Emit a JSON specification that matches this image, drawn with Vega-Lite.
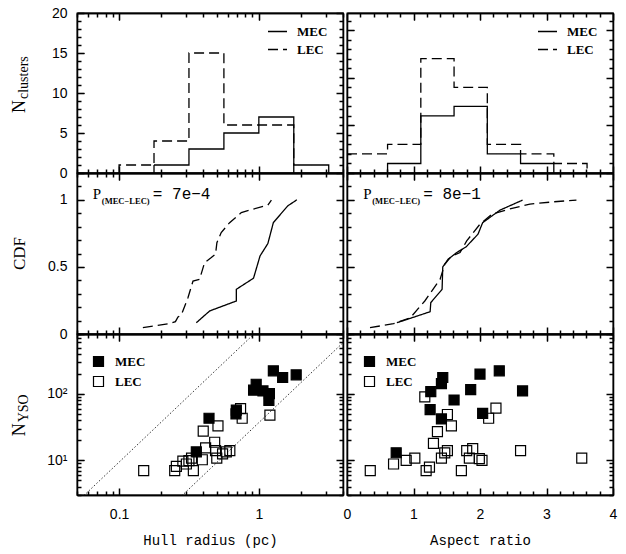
{
"$schema": "https://vega.github.io/schema/vega-lite/v6.json",
"padding": {"left": 10, "top": 5, "right": 5, "bottom": 5},
"background": "white",
"bounds": "flush",
"columns": 2,
"spacing": {"row": 0, "column": 4},
"resolve": {"scale": {"strokeDash": "independent", "fill": "independent"}, "legend": {"strokeDash": "independent", "fill": "independent"}},
"config": {
 "view": {"stroke": "black", "strokeWidth": 1.3},
 "axis": {"grid": true, "gridColor": "black", "gridWidth": 1.1, "gridOpacity": 1, "gridDash": [4, 3000], "domain": true, "domainColor": "black", "domainWidth": 1.3, "ticks": true, "tickColor": "#000000", "tickWidth": 1.5, "tickOpacity": 1, "labelFont": "Liberation Sans", "labelFontSize": 14, "labelColor": "black", "titleFont": "Liberation Mono", "titleFontSize": 14, "titleFontWeight": "normal", "titleColor": "black", "labelOverlap": false, "labelFlush": false, "labelBound": false},
 "text": {"font": "Liberation Serif", "color": "black"}
},
"datasets": {
 "hist_r": [
  {"s":"MEC","i":0,"x":0.1778,"n":0},{"s":"MEC","i":1,"x":0.1778,"n":1},{"s":"MEC","i":2,"x":0.3162,"n":3},{"s":"MEC","i":3,"x":0.5623,"n":5},{"s":"MEC","i":4,"x":1.0,"n":7},{"s":"MEC","i":5,"x":1.778,"n":1},{"s":"MEC","i":6,"x":3.162,"n":0},
  {"s":"LEC","i":0,"x":0.1,"n":0},{"s":"LEC","i":1,"x":0.1,"n":1},{"s":"LEC","i":2,"x":0.1778,"n":4},{"s":"LEC","i":3,"x":0.3162,"n":15},{"s":"LEC","i":4,"x":0.5623,"n":6},{"s":"LEC","i":5,"x":1.0,"n":6},{"s":"LEC","i":6,"x":1.778,"n":0}
 ],
 "hist_ar": [
  {"s":"MEC","i":0,"x":0.61,"n":0},{"s":"MEC","i":1,"x":0.61,"n":1},{"s":"MEC","i":2,"x":1.11,"n":6},{"s":"MEC","i":3,"x":1.61,"n":7},{"s":"MEC","i":4,"x":2.11,"n":2},{"s":"MEC","i":5,"x":2.61,"n":1},{"s":"MEC","i":6,"x":3.11,"n":0},
  {"s":"LEC","i":0,"x":0,"n":2},{"s":"LEC","i":1,"x":0.61,"n":3},{"s":"LEC","i":2,"x":1.11,"n":12},{"s":"LEC","i":3,"x":1.61,"n":9},{"s":"LEC","i":4,"x":2.11,"n":3},{"s":"LEC","i":5,"x":2.61,"n":2},{"s":"LEC","i":6,"x":3.11,"n":1},{"s":"LEC","i":7,"x":3.61,"n":0}
 ],
 "cdf_r": [
  {"s":"LEC","i":0,"x":0.148,"c":0.047},{"s":"LEC","i":1,"x":0.23,"c":0.077},{"s":"LEC","i":2,"x":0.253,"c":0.092},{"s":"LEC","i":3,"x":0.264,"c":0.127},{"s":"LEC","i":4,"x":0.279,"c":0.142},{"s":"LEC","i":5,"x":0.311,"c":0.27},{"s":"LEC","i":6,"x":0.338,"c":0.395},{"s":"LEC","i":7,"x":0.377,"c":0.408},{"s":"LEC","i":8,"x":0.409,"c":0.532},{"s":"LEC","i":9,"x":0.457,"c":0.57},{"s":"LEC","i":10,"x":0.49,"c":0.595},{"s":"LEC","i":11,"x":0.501,"c":0.68},{"s":"LEC","i":12,"x":0.538,"c":0.756},{"s":"LEC","i":13,"x":0.618,"c":0.83},{"s":"LEC","i":14,"x":0.749,"c":0.905},{"s":"LEC","i":15,"x":0.906,"c":0.93},{"s":"LEC","i":16,"x":1.16,"c":0.96},{"s":"LEC","i":17,"x":1.23,"c":0.998},
  {"s":"MEC","i":0,"x":0.357,"c":0.084},{"s":"MEC","i":1,"x":0.445,"c":0.172},{"s":"MEC","i":2,"x":0.69,"c":0.246},{"s":"MEC","i":3,"x":0.69,"c":0.333},{"s":"MEC","i":4,"x":0.916,"c":0.416},{"s":"MEC","i":5,"x":1.02,"c":0.582},{"s":"MEC","i":6,"x":1.16,"c":0.674},{"s":"MEC","i":7,"x":1.27,"c":0.83},{"s":"MEC","i":8,"x":1.61,"c":0.955},{"s":"MEC","i":9,"x":1.87,"c":1.0}
 ],
 "cdf_ar": [
  {"s":"LEC","i":0,"x":0.346,"c":0.047},{"s":"LEC","i":1,"x":0.70,"c":0.077},{"s":"LEC","i":2,"x":0.95,"c":0.12},{"s":"LEC","i":3,"x":1.17,"c":0.246},{"s":"LEC","i":4,"x":1.40,"c":0.408},{"s":"LEC","i":5,"x":1.47,"c":0.52},{"s":"LEC","i":6,"x":1.57,"c":0.58},{"s":"LEC","i":7,"x":1.70,"c":0.607},{"s":"LEC","i":8,"x":1.80,"c":0.694},{"s":"LEC","i":9,"x":2.0,"c":0.819},{"s":"LEC","i":10,"x":2.18,"c":0.893},{"s":"LEC","i":11,"x":2.43,"c":0.93},{"s":"LEC","i":12,"x":2.75,"c":0.968},{"s":"LEC","i":13,"x":3.10,"c":0.985},{"s":"LEC","i":14,"x":3.45,"c":0.998},
  {"s":"MEC","i":0,"x":0.75,"c":0.084},{"s":"MEC","i":1,"x":1.25,"c":0.166},{"s":"MEC","i":2,"x":1.26,"c":0.234},{"s":"MEC","i":3,"x":1.43,"c":0.333},{"s":"MEC","i":4,"x":1.44,"c":0.5},{"s":"MEC","i":5,"x":1.52,"c":0.557},{"s":"MEC","i":6,"x":1.65,"c":0.607},{"s":"MEC","i":7,"x":1.79,"c":0.649},{"s":"MEC","i":8,"x":1.97,"c":0.744},{"s":"MEC","i":9,"x":2.04,"c":0.83},{"s":"MEC","i":10,"x":2.30,"c":0.923},{"s":"MEC","i":11,"x":2.64,"c":0.998}
 ],
 "sc_r": [
  {"s":"LEC","x":0.74,"n":60},{"s":"LEC","x":0.76,"n":43},{"s":"LEC","x":1.2,"n":48},{"s":"LEC","x":0.51,"n":33},{"s":"LEC","x":0.40,"n":27.5},{"s":"LEC","x":0.483,"n":18.7},{"s":"LEC","x":0.416,"n":15.4},{"s":"LEC","x":0.49,"n":14},{"s":"LEC","x":0.62,"n":14},{"s":"LEC","x":0.585,"n":13.4},{"s":"LEC","x":0.55,"n":12.5},{"s":"LEC","x":0.5,"n":10.8},{"s":"LEC","x":0.394,"n":10.2},{"s":"LEC","x":0.33,"n":10.8},{"s":"LEC","x":0.316,"n":9.9},{"s":"LEC","x":0.303,"n":8.8},{"s":"LEC","x":0.286,"n":9.7},{"s":"LEC","x":0.257,"n":8.1},{"s":"LEC","x":0.25,"n":7},{"s":"LEC","x":0.34,"n":7},{"s":"LEC","x":0.15,"n":7},
  {"s":"MEC","x":1.27,"n":223},{"s":"MEC","x":1.48,"n":177},{"s":"MEC","x":1.85,"n":194},{"s":"MEC","x":0.957,"n":140},{"s":"MEC","x":0.917,"n":114},{"s":"MEC","x":1.07,"n":111},{"s":"MEC","x":1.19,"n":101},{"s":"MEC","x":1.18,"n":80},{"s":"MEC","x":0.69,"n":57},{"s":"MEC","x":0.686,"n":50},{"s":"MEC","x":0.44,"n":43},{"s":"MEC","x":0.357,"n":13.4}
 ],
 "sc_ar": [
  {"s":"LEC","x":1.17,"n":90},{"s":"LEC","x":2.24,"n":61},{"s":"LEC","x":2.13,"n":43},{"s":"LEC","x":1.51,"n":49},{"s":"LEC","x":1.57,"n":33},{"s":"LEC","x":1.36,"n":27},{"s":"LEC","x":1.30,"n":18},{"s":"LEC","x":1.51,"n":14},{"s":"LEC","x":1.47,"n":12.9},{"s":"LEC","x":1.42,"n":10.8},{"s":"LEC","x":1.80,"n":14},{"s":"LEC","x":1.89,"n":15},{"s":"LEC","x":1.84,"n":10.8},{"s":"LEC","x":1.99,"n":10.6},{"s":"LEC","x":2.03,"n":10},{"s":"LEC","x":2.61,"n":14},{"s":"LEC","x":3.53,"n":10.8},{"s":"LEC","x":1.02,"n":10.8},{"s":"LEC","x":0.89,"n":10},{"s":"LEC","x":0.70,"n":8.8},{"s":"LEC","x":0.35,"n":7},{"s":"LEC","x":1.19,"n":7},{"s":"LEC","x":1.24,"n":7.9},{"s":"LEC","x":1.72,"n":7},
  {"s":"MEC","x":1.44,"n":177},{"s":"MEC","x":2.0,"n":199},{"s":"MEC","x":2.29,"n":223},{"s":"MEC","x":1.42,"n":143},{"s":"MEC","x":1.26,"n":108},{"s":"MEC","x":1.86,"n":116},{"s":"MEC","x":2.64,"n":111},{"s":"MEC","x":1.61,"n":81},{"s":"MEC","x":1.25,"n":58},{"s":"MEC","x":2.04,"n":51},{"s":"MEC","x":1.42,"n":42},{"s":"MEC","x":0.74,"n":13}
 ],
 "diag": [
  {"g":"A","x":0.04,"n":1.5},{"g":"A","x":1.2,"n":1354},{"g":"B","x":0.2,"n":1.48},{"g":"B","x":6,"n":1332}
 ]
},
"concat": [
 {
  "width": 266, "height": 160,
  "resolve": {"axis": {"x": "independent", "y": "independent"}},
  "layer": [
   {"data": {"name": "hist_r"}, "transform": [{"filter": "datum.s=='MEC'"}],
    "mark": {"type": "line", "interpolate": "step-after", "clip": true, "strokeWidth": 1.3, "color": "black"},
    "encoding": {
     "x": {"field": "x", "type": "quantitative", "scale": {"type": "log", "domain": [0.05, 4]}, "axis": {"orient": "bottom", "values": [0.1, 1], "labels": false, "title": null, "tickSize": -7, "gridDash": [7, 3000]}},
     "y": {"field": "n", "type": "quantitative", "scale": {"domain": [0, 20]}, "axis": {"orient": "left", "values": [0, 5, 10, 15, 20], "labelPadding": 17, "title": null, "tickSize": -7, "gridDash": [7, 3000]}},
     "order": {"field": "i"},
     "strokeDash": {"field": "s", "type": "nominal", "scale": {"domain": ["MEC", "LEC"], "range": [[1, 0], [10, 5]]}, "legend": {"orient": "none", "legendX": 190, "legendY": 8, "title": null, "labelFont": "Liberation Serif", "labelFontSize": 13, "labelFontWeight": "bold", "symbolType": "stroke", "symbolSize": 361, "symbolStrokeWidth": 1.3, "symbolStrokeColor": "black", "labelOffset": 9, "rowPadding": 0, "padding": 0}}
    }},
   {"data": {"name": "hist_r"}, "transform": [{"filter": "datum.s=='LEC'"}],
    "mark": {"type": "line", "interpolate": "step-after", "clip": true, "strokeWidth": 1.3, "color": "black"},
    "encoding": {
     "x": {"field": "x", "type": "quantitative", "scale": {"type": "log", "domain": [0.05, 4]}, "axis": {"orient": "top", "values": [0.1, 1], "labels": false, "title": null, "tickSize": -7, "gridDash": [7, 3000]}},
     "y": {"field": "n", "type": "quantitative", "scale": {"domain": [0, 20]}, "axis": {"orient": "right", "values": [0, 5, 10, 15, 20], "labels": false, "title": null, "tickSize": -7, "gridDash": [7, 3000]}},
     "order": {"field": "i"},
     "strokeDash": {"field": "s", "type": "nominal", "scale": {"domain": ["MEC", "LEC"], "range": [[1, 0], [10, 5]]}}
    }},
   {"data": {"name": "hist_r"}, "mark": {"type": "point", "opacity": 0},
    "encoding": {
     "x": {"field": "x", "type": "quantitative", "scale": {"type": "log", "domain": [0.05, 4]}, "axis": {"orient": "bottom", "values": [0.05,0.06,0.07,0.08,0.09,0.2,0.3,0.4,0.5,0.6,0.7,0.8,0.9,2,3,4], "labels": false, "title": null, "tickSize": -4}},
     "y": {"field": "n", "type": "quantitative", "scale": {"domain": [0, 20]}, "axis": {"orient": "left", "values": [1,2,3,4,6,7,8,9,11,12,13,14,16,17,18,19], "labels": false, "title": null, "tickSize": -4}}
    }},
   {"data": {"name": "hist_r"}, "mark": {"type": "point", "opacity": 0},
    "encoding": {
     "x": {"field": "x", "type": "quantitative", "scale": {"type": "log", "domain": [0.05, 4]}, "axis": {"orient": "top", "values": [0.05,0.06,0.07,0.08,0.09,0.2,0.3,0.4,0.5,0.6,0.7,0.8,0.9,2,3,4], "labels": false, "title": null, "tickSize": -4}},
     "y": {"field": "n", "type": "quantitative", "scale": {"domain": [0, 20]}, "axis": {"orient": "right", "values": [1,2,3,4,6,7,8,9,11,12,13,14,16,17,18,19], "labels": false, "title": null, "tickSize": -4}}
    }},
   {"data": {"values": [{}]}, "mark": {"type": "text", "angle": 270, "align": "left", "baseline": "alphabetic", "fontSize": 18},
    "encoding": {"x": {"datum": 0.0212, "type": "quantitative", "scale": {"type": "log", "domain": [0.05, 4]}, "axis": null}, "y": {"datum": 7.5, "type": "quantitative", "scale": {"domain": [0, 20]}, "axis": null}, "text": {"value": "N"}}},
   {"data": {"values": [{}]}, "mark": {"type": "text", "angle": 270, "align": "left", "baseline": "alphabetic", "fontSize": 14, "dx": 14, "dy": 3},
    "encoding": {"x": {"datum": 0.0212, "type": "quantitative", "scale": {"type": "log", "domain": [0.05, 4]}, "axis": null}, "y": {"datum": 7.5, "type": "quantitative", "scale": {"domain": [0, 20]}, "axis": null}, "text": {"value": "clusters"}}}
  ]
 },
 {
  "width": 266, "height": 160,
  "resolve": {"axis": {"x": "independent", "y": "independent"}},
  "layer": [
   {"data": {"name": "hist_ar"}, "transform": [{"filter": "datum.s=='MEC'"}],
    "mark": {"type": "line", "interpolate": "step-after", "clip": true, "strokeWidth": 1.3, "color": "black"},
    "encoding": {
     "x": {"field": "x", "type": "quantitative", "scale": {"domain": [0, 4]}, "axis": {"orient": "bottom", "values": [0, 1, 2, 3, 4], "labels": false, "title": null, "tickSize": -7, "gridDash": [7, 3000]}},
     "y": {"field": "n", "type": "quantitative", "scale": {"domain": [0, 16.8]}, "axis": {"orient": "left", "values": [0, 5, 10, 15], "labels": false, "title": null, "tickSize": -7, "gridDash": [7, 3000]}},
     "order": {"field": "i"},
     "strokeDash": {"field": "s", "type": "nominal", "scale": {"domain": ["MEC", "LEC"], "range": [[1, 0], [10, 5]]}, "legend": {"orient": "none", "legendX": 190, "legendY": 8, "title": null, "labelFont": "Liberation Serif", "labelFontSize": 13, "labelFontWeight": "bold", "symbolType": "stroke", "symbolSize": 361, "symbolStrokeWidth": 1.3, "symbolStrokeColor": "black", "labelOffset": 9, "rowPadding": 0, "padding": 0}}
    }},
   {"data": {"name": "hist_ar"}, "transform": [{"filter": "datum.s=='LEC'"}],
    "mark": {"type": "line", "interpolate": "step-after", "clip": true, "strokeWidth": 1.3, "color": "black"},
    "encoding": {
     "x": {"field": "x", "type": "quantitative", "scale": {"domain": [0, 4]}, "axis": {"orient": "top", "values": [0, 1, 2, 3, 4], "labels": false, "title": null, "tickSize": -7, "gridDash": [7, 3000]}},
     "y": {"field": "n", "type": "quantitative", "scale": {"domain": [0, 16.8]}, "axis": {"orient": "right", "values": [0, 5, 10, 15], "labels": false, "title": null, "tickSize": -7, "gridDash": [7, 3000]}},
     "order": {"field": "i"},
     "strokeDash": {"field": "s", "type": "nominal", "scale": {"domain": ["MEC", "LEC"], "range": [[1, 0], [10, 5]]}}
    }},
   {"data": {"name": "hist_ar"}, "mark": {"type": "point", "opacity": 0},
    "encoding": {
     "x": {"field": "x", "type": "quantitative", "scale": {"domain": [0, 4]}, "axis": {"orient": "bottom", "values": [0.2,0.4,0.6,0.8,1.2,1.4,1.6,1.8,2.2,2.4,2.6,2.8,3.2,3.4,3.6,3.8], "labels": false, "title": null, "tickSize": -4}},
     "y": {"field": "n", "type": "quantitative", "scale": {"domain": [0, 16.8]}, "axis": {"orient": "left", "values": [1,2,3,4,6,7,8,9,11,12,13,14,16], "labels": false, "title": null, "tickSize": -4}}
    }},
   {"data": {"name": "hist_ar"}, "mark": {"type": "point", "opacity": 0},
    "encoding": {
     "x": {"field": "x", "type": "quantitative", "scale": {"domain": [0, 4]}, "axis": {"orient": "top", "values": [0.2,0.4,0.6,0.8,1.2,1.4,1.6,1.8,2.2,2.4,2.6,2.8,3.2,3.4,3.6,3.8], "labels": false, "title": null, "tickSize": -4}},
     "y": {"field": "n", "type": "quantitative", "scale": {"domain": [0, 16.8]}, "axis": {"orient": "right", "values": [1,2,3,4,6,7,8,9,11,12,13,14,16], "labels": false, "title": null, "tickSize": -4}}
    }}
  ]
 },
 {
  "width": 266, "height": 161,
  "resolve": {"axis": {"x": "independent", "y": "independent"}},
  "layer": [
   {"data": {"name": "cdf_r"}, "transform": [{"filter": "datum.s=='MEC'"}],
    "mark": {"type": "line", "clip": true, "strokeWidth": 1.3, "color": "black"},
    "encoding": {
     "x": {"field": "x", "type": "quantitative", "scale": {"type": "log", "domain": [0.05, 4]}, "axis": {"orient": "bottom", "values": [0.1, 1], "labels": false, "title": null, "tickSize": -7, "gridDash": [7, 3000]}},
     "y": {"field": "c", "type": "quantitative", "scale": {"domain": [0, 1.2]}, "axis": {"orient": "left", "values": [0, 0.5, 1], "labelExpr": "datum.value==0?'0':datum.value==0.5?'0.5':'1'", "labelPadding": 17, "title": null, "tickSize": -7, "gridDash": [7, 3000]}},
     "order": {"field": "i"},
     "strokeDash": {"field": "s", "type": "nominal", "scale": {"domain": ["MEC", "LEC"], "range": [[1, 0], [10, 5]]}, "legend": null}
    }},
   {"data": {"name": "cdf_r"}, "transform": [{"filter": "datum.s=='LEC'"}],
    "mark": {"type": "line", "clip": true, "strokeWidth": 1.3, "color": "black"},
    "encoding": {
     "x": {"field": "x", "type": "quantitative", "scale": {"type": "log", "domain": [0.05, 4]}, "axis": {"orient": "top", "values": [0.1, 1], "labels": false, "title": null, "tickSize": -7, "gridDash": [7, 3000]}},
     "y": {"field": "c", "type": "quantitative", "scale": {"domain": [0, 1.2]}, "axis": {"orient": "right", "values": [0, 0.5, 1], "labels": false, "title": null, "tickSize": -7, "gridDash": [7, 3000]}},
     "order": {"field": "i"},
     "strokeDash": {"field": "s", "type": "nominal", "scale": {"domain": ["MEC", "LEC"], "range": [[1, 0], [10, 5]]}, "legend": null}
    }},
   {"data": {"name": "cdf_r"}, "mark": {"type": "point", "opacity": 0},
    "encoding": {
     "x": {"field": "x", "type": "quantitative", "scale": {"type": "log", "domain": [0.05, 4]}, "axis": {"orient": "bottom", "values": [0.05,0.06,0.07,0.08,0.09,0.2,0.3,0.4,0.5,0.6,0.7,0.8,0.9,2,3,4], "labels": false, "title": null, "tickSize": -4}},
     "y": {"field": "c", "type": "quantitative", "scale": {"domain": [0, 1.2]}, "axis": {"orient": "left", "values": [0.1,0.2,0.3,0.4,0.6,0.7,0.8,0.9,1.1], "labels": false, "title": null, "tickSize": -4}}
    }},
   {"data": {"name": "cdf_r"}, "mark": {"type": "point", "opacity": 0},
    "encoding": {
     "x": {"field": "x", "type": "quantitative", "scale": {"type": "log", "domain": [0.05, 4]}, "axis": {"orient": "top", "values": [0.05,0.06,0.07,0.08,0.09,0.2,0.3,0.4,0.5,0.6,0.7,0.8,0.9,2,3,4], "labels": false, "title": null, "tickSize": -4}},
     "y": {"field": "c", "type": "quantitative", "scale": {"domain": [0, 1.2]}, "axis": {"orient": "right", "values": [0.1,0.2,0.3,0.4,0.6,0.7,0.8,0.9,1.1], "labels": false, "title": null, "tickSize": -4}}
    }},
   {"data": {"values": [{}]}, "mark": {"type": "text", "angle": 270, "align": "center", "baseline": "alphabetic", "fontSize": 17},
    "encoding": {"x": {"datum": 0.0212, "type": "quantitative", "scale": {"type": "log", "domain": [0.05, 4]}, "axis": null}, "y": {"datum": 0.6, "type": "quantitative", "scale": {"domain": [0, 1.2]}, "axis": null}, "text": {"value": "CDF"}}},
   {"data": {"values": [{}]}, "mark": {"type": "text", "align": "left", "baseline": "alphabetic", "fontSize": 15},
    "encoding": {"x": {"datum": 0.0649, "type": "quantitative", "scale": {"type": "log", "domain": [0.05, 4]}, "axis": null}, "y": {"datum": 1.0075, "type": "quantitative", "scale": {"domain": [0, 1.2]}, "axis": null}, "text": {"value": "P"}}},
   {"data": {"values": [{}]}, "mark": {"type": "text", "align": "left", "baseline": "alphabetic", "fontSize": 8.5, "fontWeight": "bold", "dx": 9, "dy": 5},
    "encoding": {"x": {"datum": 0.0649, "type": "quantitative", "scale": {"type": "log", "domain": [0.05, 4]}, "axis": null}, "y": {"datum": 1.0075, "type": "quantitative", "scale": {"domain": [0, 1.2]}, "axis": null}, "text": {"value": "(MEC−LEC)"}}},
   {"data": {"values": [{}]}, "mark": {"type": "text", "align": "left", "baseline": "alphabetic", "fontSize": 16, "font": "Liberation Mono", "dx": 60},
    "encoding": {"x": {"datum": 0.0649, "type": "quantitative", "scale": {"type": "log", "domain": [0.05, 4]}, "axis": null}, "y": {"datum": 1.0075, "type": "quantitative", "scale": {"domain": [0, 1.2]}, "axis": null}, "text": {"value": "=\u00a07e−4"}}}
  ]
 },
 {
  "width": 266, "height": 161,
  "resolve": {"axis": {"x": "independent", "y": "independent"}},
  "layer": [
   {"data": {"name": "cdf_ar"}, "transform": [{"filter": "datum.s=='MEC'"}],
    "mark": {"type": "line", "clip": true, "strokeWidth": 1.3, "color": "black"},
    "encoding": {
     "x": {"field": "x", "type": "quantitative", "scale": {"domain": [0, 4]}, "axis": {"orient": "bottom", "values": [0, 1, 2, 3, 4], "labels": false, "title": null, "tickSize": -7, "gridDash": [7, 3000]}},
     "y": {"field": "c", "type": "quantitative", "scale": {"domain": [0, 1.2]}, "axis": {"orient": "left", "values": [0, 0.5, 1], "labels": false, "title": null, "tickSize": -7, "gridDash": [7, 3000]}},
     "order": {"field": "i"},
     "strokeDash": {"field": "s", "type": "nominal", "scale": {"domain": ["MEC", "LEC"], "range": [[1, 0], [10, 5]]}, "legend": null}
    }},
   {"data": {"name": "cdf_ar"}, "transform": [{"filter": "datum.s=='LEC'"}],
    "mark": {"type": "line", "clip": true, "strokeWidth": 1.3, "color": "black"},
    "encoding": {
     "x": {"field": "x", "type": "quantitative", "scale": {"domain": [0, 4]}, "axis": {"orient": "top", "values": [0, 1, 2, 3, 4], "labels": false, "title": null, "tickSize": -7, "gridDash": [7, 3000]}},
     "y": {"field": "c", "type": "quantitative", "scale": {"domain": [0, 1.2]}, "axis": {"orient": "right", "values": [0, 0.5, 1], "labels": false, "title": null, "tickSize": -7, "gridDash": [7, 3000]}},
     "order": {"field": "i"},
     "strokeDash": {"field": "s", "type": "nominal", "scale": {"domain": ["MEC", "LEC"], "range": [[1, 0], [10, 5]]}, "legend": null}
    }},
   {"data": {"name": "cdf_ar"}, "mark": {"type": "point", "opacity": 0},
    "encoding": {
     "x": {"field": "x", "type": "quantitative", "scale": {"domain": [0, 4]}, "axis": {"orient": "bottom", "values": [0.2,0.4,0.6,0.8,1.2,1.4,1.6,1.8,2.2,2.4,2.6,2.8,3.2,3.4,3.6,3.8], "labels": false, "title": null, "tickSize": -4}},
     "y": {"field": "c", "type": "quantitative", "scale": {"domain": [0, 1.2]}, "axis": {"orient": "left", "values": [0.1,0.2,0.3,0.4,0.6,0.7,0.8,0.9,1.1], "labels": false, "title": null, "tickSize": -4}}
    }},
   {"data": {"name": "cdf_ar"}, "mark": {"type": "point", "opacity": 0},
    "encoding": {
     "x": {"field": "x", "type": "quantitative", "scale": {"domain": [0, 4]}, "axis": {"orient": "top", "values": [0.2,0.4,0.6,0.8,1.2,1.4,1.6,1.8,2.2,2.4,2.6,2.8,3.2,3.4,3.6,3.8], "labels": false, "title": null, "tickSize": -4}},
     "y": {"field": "c", "type": "quantitative", "scale": {"domain": [0, 1.2]}, "axis": {"orient": "right", "values": [0.1,0.2,0.3,0.4,0.6,0.7,0.8,0.9,1.1], "labels": false, "title": null, "tickSize": -4}}
    }},
   {"data": {"values": [{}]}, "mark": {"type": "text", "align": "left", "baseline": "alphabetic", "fontSize": 15},
    "encoding": {"x": {"datum": 0.245, "type": "quantitative", "scale": {"domain": [0, 4]}, "axis": null}, "y": {"datum": 1.0075, "type": "quantitative", "scale": {"domain": [0, 1.2]}, "axis": null}, "text": {"value": "P"}}},
   {"data": {"values": [{}]}, "mark": {"type": "text", "align": "left", "baseline": "alphabetic", "fontSize": 8.5, "fontWeight": "bold", "dx": 9, "dy": 5},
    "encoding": {"x": {"datum": 0.245, "type": "quantitative", "scale": {"domain": [0, 4]}, "axis": null}, "y": {"datum": 1.0075, "type": "quantitative", "scale": {"domain": [0, 1.2]}, "axis": null}, "text": {"value": "(MEC−LEC)"}}},
   {"data": {"values": [{}]}, "mark": {"type": "text", "align": "left", "baseline": "alphabetic", "fontSize": 16, "font": "Liberation Mono", "dx": 60},
    "encoding": {"x": {"datum": 0.245, "type": "quantitative", "scale": {"domain": [0, 4]}, "axis": null}, "y": {"datum": 1.0075, "type": "quantitative", "scale": {"domain": [0, 1.2]}, "axis": null}, "text": {"value": "=\u00a08e−1"}}}
  ]
 },
 {
  "width": 266, "height": 161,
  "resolve": {"axis": {"x": "independent", "y": "independent"}},
  "layer": [
   {"data": {"name": "sc_r"},
    "mark": {"type": "square", "size": 100, "stroke": "black", "strokeWidth": 1.2, "opacity": 1, "clip": true},
    "encoding": {
     "x": {"field": "x", "type": "quantitative", "scale": {"type": "log", "domain": [0.05, 4]}, "axis": {"orient": "bottom", "values": [0.1, 1], "labelExpr": "datum.value==0.1?'0.1':'1'", "labelPadding": 19, "title": "Hull radius (pc)", "titlePadding": 12, "tickSize": -7, "gridDash": [7, 3000]}},
     "y": {"field": "n", "type": "quantitative", "scale": {"type": "log", "domain": [3, 800]}, "axis": {"orient": "left", "values": [10, 100], "labelExpr": "datum.value==10?'10¹':'10²'", "labelPadding": 17, "title": null, "tickSize": -7, "gridDash": [7, 3000]}},
     "fill": {"field": "s", "type": "nominal", "scale": {"domain": ["MEC", "LEC"], "range": ["black", "transparent"]}, "legend": {"orient": "none", "legendX": 15, "legendY": 21, "title": null, "symbolType": "square", "symbolSize": 100, "symbolStrokeColor": "black", "symbolStrokeWidth": 1.2, "labelFont": "Liberation Serif", "labelFontSize": 13, "labelFontWeight": "bold", "labelOffset": 10, "rowPadding": 5, "padding": 0}}
    }},
   {"data": {"name": "diag"},
    "mark": {"type": "line", "clip": true, "strokeDash": [1.5, 2], "strokeWidth": 0.8, "color": "black"},
    "encoding": {
     "x": {"field": "x", "type": "quantitative", "scale": {"type": "log", "domain": [0.05, 4]}, "axis": {"orient": "top", "values": [0.1, 1], "labels": false, "title": null, "tickSize": -7, "gridDash": [7, 3000]}},
     "y": {"field": "n", "type": "quantitative", "scale": {"type": "log", "domain": [3, 800]}, "axis": {"orient": "right", "values": [10, 100], "labels": false, "title": null, "tickSize": -7, "gridDash": [7, 3000]}},
     "detail": {"field": "g"}
    }},
   {"data": {"name": "sc_r"}, "mark": {"type": "point", "opacity": 0},
    "encoding": {
     "x": {"field": "x", "type": "quantitative", "scale": {"type": "log", "domain": [0.05, 4]}, "axis": {"orient": "bottom", "values": [0.05,0.06,0.07,0.08,0.09,0.2,0.3,0.4,0.5,0.6,0.7,0.8,0.9,2,3,4], "labels": false, "title": null, "tickSize": -4}},
     "y": {"field": "n", "type": "quantitative", "scale": {"type": "log", "domain": [3, 800]}, "axis": {"orient": "left", "values": [3,4,5,6,7,8,9,20,30,40,50,60,70,80,90,200,300,400,500,600,700,800], "labels": false, "title": null, "tickSize": -4}}
    }},
   {"data": {"name": "sc_r"}, "mark": {"type": "point", "opacity": 0},
    "encoding": {
     "x": {"field": "x", "type": "quantitative", "scale": {"type": "log", "domain": [0.05, 4]}, "axis": {"orient": "top", "values": [0.05,0.06,0.07,0.08,0.09,0.2,0.3,0.4,0.5,0.6,0.7,0.8,0.9,2,3,4], "labels": false, "title": null, "tickSize": -4}},
     "y": {"field": "n", "type": "quantitative", "scale": {"type": "log", "domain": [3, 800]}, "axis": {"orient": "right", "values": [3,4,5,6,7,8,9,20,30,40,50,60,70,80,90,200,300,400,500,600,700,800], "labels": false, "title": null, "tickSize": -4}}
    }},
   {"data": {"values": [{}]}, "mark": {"type": "text", "angle": 270, "align": "left", "baseline": "alphabetic", "fontSize": 18},
    "encoding": {"x": {"datum": 0.0212, "type": "quantitative", "scale": {"type": "log", "domain": [0.05, 4]}, "axis": null}, "y": {"datum": 23, "type": "quantitative", "scale": {"type": "log", "domain": [3, 800]}, "axis": null}, "text": {"value": "N"}}},
   {"data": {"values": [{}]}, "mark": {"type": "text", "angle": 270, "align": "left", "baseline": "alphabetic", "fontSize": 14, "dx": 14, "dy": 3},
    "encoding": {"x": {"datum": 0.0212, "type": "quantitative", "scale": {"type": "log", "domain": [0.05, 4]}, "axis": null}, "y": {"datum": 23, "type": "quantitative", "scale": {"type": "log", "domain": [3, 800]}, "axis": null}, "text": {"value": "YSO"}}}
  ]
 },
 {
  "width": 266, "height": 161,
  "resolve": {"axis": {"x": "independent", "y": "independent"}},
  "layer": [
   {"data": {"name": "sc_ar"}, "transform": [{"filter": "datum.s=='LEC'"}],
    "mark": {"type": "square", "size": 100, "stroke": "black", "strokeWidth": 1.2, "opacity": 1, "clip": true},
    "encoding": {
     "x": {"field": "x", "type": "quantitative", "scale": {"domain": [0, 4]}, "axis": {"orient": "bottom", "values": [0, 1, 2, 3, 4], "labelExpr": "''+datum.value", "labelPadding": 19, "title": "Aspect ratio", "titlePadding": 12, "tickSize": -7, "gridDash": [7, 3000]}},
     "y": {"field": "n", "type": "quantitative", "scale": {"type": "log", "domain": [3, 800]}, "axis": {"orient": "left", "values": [10, 100], "labels": false, "title": null, "tickSize": -7, "gridDash": [7, 3000]}},
     "fill": {"field": "s", "type": "nominal", "scale": {"domain": ["MEC", "LEC"], "range": ["black", "transparent"]}, "legend": {"orient": "none", "legendX": 16, "legendY": 21, "title": null, "symbolType": "square", "symbolSize": 100, "symbolStrokeColor": "black", "symbolStrokeWidth": 1.2, "labelFont": "Liberation Serif", "labelFontSize": 13, "labelFontWeight": "bold", "labelOffset": 10, "rowPadding": 5, "padding": 0}}
    }},
   {"data": {"name": "sc_ar"}, "transform": [{"filter": "datum.s=='MEC'"}],
    "mark": {"type": "square", "size": 100, "stroke": "black", "strokeWidth": 1.2, "opacity": 1, "clip": true},
    "encoding": {
     "x": {"field": "x", "type": "quantitative", "scale": {"domain": [0, 4]}, "axis": {"orient": "top", "values": [0, 1, 2, 3, 4], "labels": false, "title": null, "tickSize": -7, "gridDash": [7, 3000]}},
     "y": {"field": "n", "type": "quantitative", "scale": {"type": "log", "domain": [3, 800]}, "axis": {"orient": "right", "values": [10, 100], "labels": false, "title": null, "tickSize": -7, "gridDash": [7, 3000]}},
     "fill": {"field": "s", "type": "nominal", "scale": {"domain": ["MEC", "LEC"], "range": ["black", "transparent"]}}
    }},
   {"data": {"name": "sc_ar"}, "mark": {"type": "point", "opacity": 0},
    "encoding": {
     "x": {"field": "x", "type": "quantitative", "scale": {"domain": [0, 4]}, "axis": {"orient": "bottom", "values": [0.2,0.4,0.6,0.8,1.2,1.4,1.6,1.8,2.2,2.4,2.6,2.8,3.2,3.4,3.6,3.8], "labels": false, "title": null, "tickSize": -4}},
     "y": {"field": "n", "type": "quantitative", "scale": {"type": "log", "domain": [3, 800]}, "axis": {"orient": "left", "values": [3,4,5,6,7,8,9,20,30,40,50,60,70,80,90,200,300,400,500,600,700,800], "labels": false, "title": null, "tickSize": -4}}
    }},
   {"data": {"name": "sc_ar"}, "mark": {"type": "point", "opacity": 0},
    "encoding": {
     "x": {"field": "x", "type": "quantitative", "scale": {"domain": [0, 4]}, "axis": {"orient": "top", "values": [0.2,0.4,0.6,0.8,1.2,1.4,1.6,1.8,2.2,2.4,2.6,2.8,3.2,3.4,3.6,3.8], "labels": false, "title": null, "tickSize": -4}},
     "y": {"field": "n", "type": "quantitative", "scale": {"type": "log", "domain": [3, 800]}, "axis": {"orient": "right", "values": [3,4,5,6,7,8,9,20,30,40,50,60,70,80,90,200,300,400,500,600,700,800], "labels": false, "title": null, "tickSize": -4}}
    }}
  ]
 }
]
}
